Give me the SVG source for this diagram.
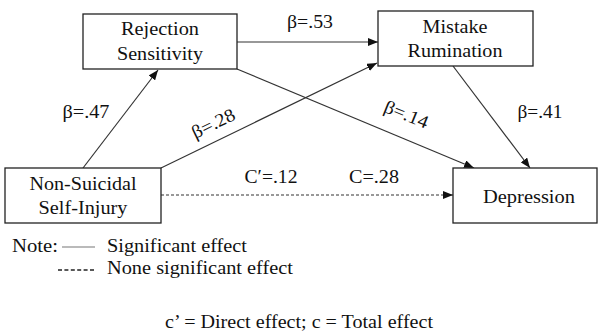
<svg xmlns="http://www.w3.org/2000/svg" width="603" height="334" viewBox="0 0 603 334">
<style>
.t{font-family:'Liberation Serif','Times New Roman',serif;font-size:18.5px;fill:#111}
.box{fill:#fff;stroke:#222;stroke-width:1.3}
.c{text-anchor:middle}
.ln{stroke:#333;stroke-width:1.2;fill:none}
.dash{stroke:#333;stroke-width:1.2;stroke-dasharray:3,2;fill:none}
</style>
<defs>
<marker id="ah" viewBox="0 0 10 8" refX="10" refY="4" markerWidth="10" markerHeight="8" markerUnits="userSpaceOnUse" orient="auto">
<path d="M0,0 L10,4 L0,8 Z" fill="#111"/>
</marker>
</defs>
<rect width="603" height="334" fill="#fff"/>
<g id="connectors">
<line class="ln" x1="83" y1="168" x2="158" y2="70" marker-end="url(#ah)"/>
<line class="ln" x1="237" y1="42" x2="378" y2="42" marker-end="url(#ah)"/>
<line class="ln" x1="161" y1="168" x2="377" y2="63" marker-end="url(#ah)"/>
<line class="ln" x1="237" y1="69" x2="474" y2="168" marker-end="url(#ah)"/>
<line class="ln" x1="453" y1="66" x2="530" y2="168" marker-end="url(#ah)"/>
<line class="dash" x1="161" y1="195" x2="453" y2="195" marker-end="url(#ah)"/>
<text x="310" y="28" class="t c" textLength="46" lengthAdjust="spacingAndGlyphs">β=.53</text>
<text x="86" y="118" class="t c" textLength="47" lengthAdjust="spacingAndGlyphs">β=.47</text>
<text transform="translate(216,129) rotate(-26)" class="t c" textLength="46" lengthAdjust="spacingAndGlyphs">β=.28</text>
<text transform="translate(404,120) rotate(22)" class="t c" textLength="46" lengthAdjust="spacingAndGlyphs">β=.14</text>
<text x="540" y="118" class="t c" textLength="45" lengthAdjust="spacingAndGlyphs">β=.41</text>
<text x="271" y="183" class="t c" textLength="53" lengthAdjust="spacingAndGlyphs">C′=.12</text>
<text x="374" y="183" class="t c" textLength="50" lengthAdjust="spacingAndGlyphs">C=.28</text>
</g>
<g id="rs">
<rect class="box" x="83" y="14" width="154" height="55"/>
<text x="160" y="35" class="t c" textLength="78" lengthAdjust="spacingAndGlyphs">Rejection</text>
<text x="160" y="60" class="t c" textLength="86" lengthAdjust="spacingAndGlyphs">Sensitivity</text>
</g>
<g id="mr">
<rect class="box" x="378" y="11" width="155" height="55"/>
<text x="455" y="33" class="t c" textLength="65" lengthAdjust="spacingAndGlyphs">Mistake</text>
<text x="455" y="57" class="t c" textLength="95" lengthAdjust="spacingAndGlyphs">Rumination</text>
</g>
<g id="nssi">
<rect class="box" x="5" y="168" width="156" height="55"/>
<text x="83" y="190" class="t c" textLength="107" lengthAdjust="spacingAndGlyphs">Non-Suicidal</text>
<text x="83" y="214" class="t c" textLength="89" lengthAdjust="spacingAndGlyphs">Self-Injury</text>
</g>
<g id="dep">
<rect class="box" x="453" y="168" width="144" height="55"/>
<text x="529" y="203" class="t c" textLength="92" lengthAdjust="spacingAndGlyphs">Depression</text>
</g>
<g id="legend">
<text x="12" y="252" class="t" textLength="46" lengthAdjust="spacingAndGlyphs">Note:</text>
<line x1="62" y1="247" x2="95" y2="247" stroke="#777" stroke-width="1.2"/>
<text x="107" y="252" class="t" textLength="140" lengthAdjust="spacingAndGlyphs">Significant effect</text>
<line x1="58" y1="270" x2="95" y2="270" stroke="#222" stroke-width="1.5" stroke-dasharray="4,2.4"/>
<text x="107" y="274" class="t" textLength="186" lengthAdjust="spacingAndGlyphs">None significant effect</text>
<text x="165" y="328" class="t" textLength="268" lengthAdjust="spacingAndGlyphs">c’ = Direct effect; c = Total effect</text>
</g>
</svg>
